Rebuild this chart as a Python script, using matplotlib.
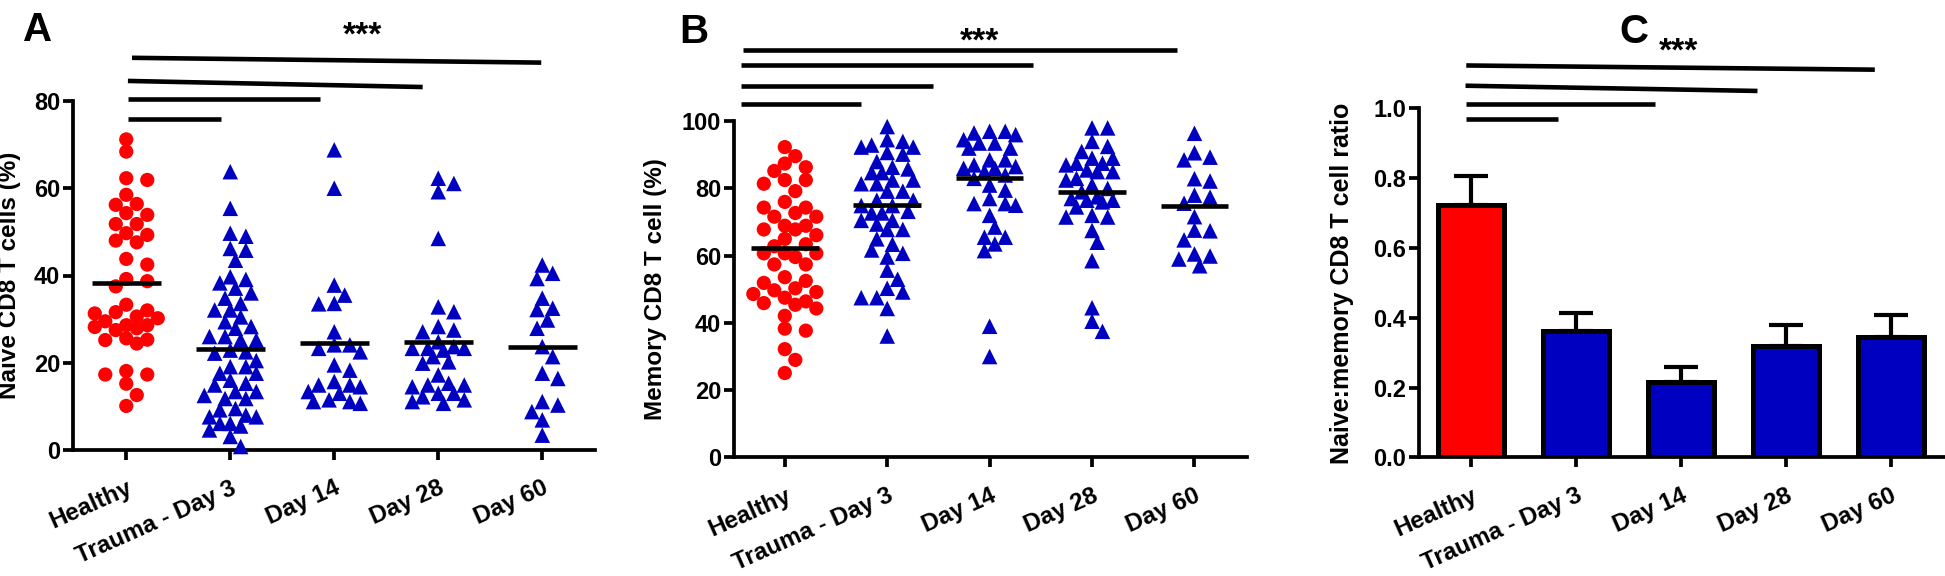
import matplotlib
matplotlib.use('Agg')
import matplotlib.pyplot as plt
import numpy as np
from matplotlib.ticker import FormatStrFormatter

plt.rcParams['font.family'] = ['Liberation Sans', 'DejaVu Sans']
plt.rcParams['font.weight'] = 'bold'

# ---------------- data ----------------
groups = ['Healthy', 'Trauma - Day 3', 'Day 14', 'Day 28', 'Day 60']

naive_healthy = [71.2, 68.4, 62.3, 61.9, 58.5, 56.4, 56.2, 54.3, 53.9, 51.8, 51.8, 49.7, 49.3, 48.0,
                 47.6, 43.8, 42.5, 39.2, 38.7, 37.5, 33.3, 32.0, 31.6, 31.3, 30.6, 30.2, 29.5, 28.6,
                 28.6, 28.2, 27.9, 27.5, 25.6, 25.3, 25.2, 24.4, 18.1, 17.3, 17.3, 15.2, 12.6, 10.1]
naive_day3 = [63.8, 55.4, 49.7, 49.0, 46.2, 45.8, 43.5, 39.7, 39.1, 38.3, 37.1, 36.0, 34.8, 33.6,
              32.1, 32.1, 30.5, 29.4, 28.3, 27.9, 26.0, 26.0, 25.2, 25.2, 22.9, 22.5, 22.2, 20.5,
              19.1, 19.1, 17.6, 17.6, 16.0, 15.3, 14.9, 13.4, 13.4, 12.5, 11.8, 11.8, 9.5, 9.2,
              8.0, 7.6, 7.6, 6.1, 6.1, 5.5, 4.6, 3.1, 0.8]
naive_day14 = [68.8, 60.0, 37.8, 35.5, 33.6, 33.5, 27.1, 24.1, 24.1, 23.3, 22.5, 19.5, 18.3, 15.7,
               14.9, 14.9, 14.5, 13.4, 13.0, 11.5, 11.1, 11.1, 10.7]
naive_day28 = [62.3, 61.1, 59.2, 48.5, 32.8, 31.7, 28.3, 27.5, 27.1, 24.8, 23.7, 23.3, 23.3, 23.3,
               22.9, 21.4, 20.2, 19.9, 17.2, 15.3, 14.9, 14.9, 14.5, 13.0, 13.0, 12.2, 11.5, 11.1, 10.7]
naive_day60 = [42.4, 40.5, 39.3, 34.8, 32.5, 32.2, 29.8, 27.9, 23.7, 21.4, 17.6, 16.4, 11.1, 10.3,
               8.8, 6.9, 3.4]
naive_center = [38.3, 23.2, 24.6, 24.8, 23.6]

memory_healthy = [92.3, 89.6, 87.4, 86.3, 85.2, 82.5, 82.5, 81.4, 79.2, 76.0, 74.3, 74.3, 72.7, 71.6,
                  71.6, 68.9, 68.9, 67.8, 67.8, 66.1, 65.0, 63.4, 62.8, 60.7, 60.7, 60.7, 59.6, 57.4,
                  57.4, 53.6, 52.5, 51.9, 50.3, 49.7, 49.2, 48.6, 47.5, 46.4, 45.9, 45.4, 44.3, 42.1,
                  38.3, 37.7, 32.2, 29.0, 25.1]
memory_day3 = [98.4, 94.5, 94.0, 92.9, 92.3, 92.3, 90.7, 90.2, 88.0, 86.3, 85.8, 84.7, 84.7, 82.5,
               82.5, 81.4, 81.4, 79.2, 79.2, 76.5, 76.5, 74.9, 74.9, 73.2, 72.7, 72.7, 70.5, 70.5,
               69.4, 67.8, 67.8, 65.0, 63.4, 61.7, 60.7, 59.6, 55.7, 53.0, 50.3, 49.2, 47.5, 47.5,
               44.3, 36.1]
memory_day14 = [97.0, 97.0, 96.5, 96.0, 94.5, 93.5, 93.5, 92.0, 92.0, 88.5, 88.5, 87.0, 86.5, 86.0,
                86.0, 85.0, 84.0, 83.0, 81.0, 79.5, 77.0, 75.5, 75.5, 75.0, 72.0, 68.5, 65.5, 65.5,
                63.5, 61.5, 39.0, 30.0]
memory_day28 = [98.0, 98.0, 94.0, 92.5, 91.0, 89.0, 89.0, 87.5, 87.5, 87.0, 85.5, 85.0, 85.0, 83.0,
                82.5, 81.0, 80.0, 79.0, 77.5, 77.0, 76.5, 76.5, 76.0, 74.5, 72.0, 71.5, 71.5, 67.5,
                64.0, 58.5, 44.5, 40.5, 37.5]
memory_day60 = [96.4, 90.6, 89.3, 88.5, 82.9, 82.2, 78.0, 77.4, 75.6, 71.6, 67.6, 67.4, 64.7, 60.5,
                59.9, 59.0, 57.0]
memory_center = [62.3, 75.2, 83.2, 79.0, 74.8]

ratio_mean = [0.724, 0.363, 0.216, 0.318, 0.344]
ratio_sem = [0.083, 0.050, 0.044, 0.061, 0.063]

sig_label = '***'

RED = '#FF0000'
BLUE = '#0000C0'

# ---------------- figure ----------------
W, H = 1945, 576
fig = plt.figure(figsize=(W / 100, H / 100), dpi=100)


def px_axes(left, right, bottom, top):
    return fig.add_axes([left / W, 1 - bottom / H, (right - left) / W, (bottom - top) / H])


axA = px_axes(72.7, 595, 450, 101)
axB = px_axes(733.6, 1246.7, 457.4, 121.2)
axC = px_axes(1418.8, 1945, 457.4, 108.4)

LW = 2.7
for ax in (axA, axB, axC):
    for s in ('top', 'right'):
        ax.spines[s].set_visible(False)
    for s in ('left', 'bottom'):
        ax.spines[s].set_linewidth(LW)
    ax.tick_params(axis='both', width=LW, length=7, direction='out')
    ax.tick_params(axis='y', pad=2)
    ax.set_xticks(range(len(groups)))
    ax.set_xticklabels(groups, rotation=24, ha='right', va='top',
                       rotation_mode='anchor', fontsize=17.5, fontweight='bold')
    ax.tick_params(axis='x', pad=12)

axA.set_xlim(-0.515, 4.507)
axA.set_ylim(0, 80)
axA.set_yticks([0, 20, 40, 60, 80])
axB.set_xlim(-0.50, 4.51)
axB.set_ylim(0, 100)
axB.set_yticks([0, 20, 40, 60, 80, 100])
axC.set_xlim(-0.503, 4.52)
axC.set_ylim(0, 1.0)
axC.set_yticks([0, 0.2, 0.4, 0.6, 0.8, 1.0])
axC.yaxis.set_major_formatter(FormatStrFormatter('%.1f'))
for ax in (axA, axB, axC):
    for lab in ax.get_yticklabels():
        lab.set_fontweight('bold')
        lab.set_fontsize(17)


def swarm_x(ax, xc, vals, diam, step, kmax):
    """Compact dot-plot spreading on a grid of offsets (pixels)."""
    vals = np.asarray(vals, float)
    pts = ax.transData.transform(np.column_stack([np.full(len(vals), xc), vals]))
    ys = pts[:, 1]
    x0 = pts[0, 0]
    grid = sorted([k * step for k in range(-kmax, kmax + 1)], key=lambda c: (abs(c), -c))
    order = np.argsort(-vals, kind='stable')
    placed = []
    offs = np.zeros(len(vals))
    for i in order:
        y = ys[i]
        best, best_d = grid[0], -1.0
        chosen = None
        for c in grid:
            dmin = min([np.hypot(c - a, y - b) for a, b in placed] + [1e9])
            if dmin >= diam:
                chosen = c
                break
            if dmin > best_d + 0.5:
                best, best_d = c, dmin
        if chosen is None:
            chosen = best
        placed.append((chosen, y))
        offs[i] = chosen
    data = ax.transData.inverted().transform(np.column_stack([x0 + offs, ys]))
    return data[:, 0]


def scatter_panel(ax, series, centers):
    for i, vals in enumerate(series):
        if i == 0:
            xs = swarm_x(ax, i, vals, 12.0, 10.5, 3)
            ax.scatter(xs, vals, s=105, marker='o', color=RED, edgecolors='none',
                       zorder=3, clip_on=False)
        else:
            xs = swarm_x(ax, i, vals, 12.0, 5.2, 5)
            ax.scatter(xs, vals, s=125, marker='^', color=BLUE, edgecolors='none',
                       zorder=3, clip_on=False)
        ax.plot([i - 0.33, i + 0.33], [centers[i], centers[i]], color='black',
                lw=3.3, zorder=4, solid_capstyle='butt')


scatter_panel(axA, [naive_healthy, naive_day3, naive_day14, naive_day28, naive_day60], naive_center)
scatter_panel(axB, [memory_healthy, memory_day3, memory_day14, memory_day28, memory_day60], memory_center)

# bars
xC = np.arange(len(groups))
axC.errorbar(xC, ratio_mean, yerr=[np.zeros(len(xC)), ratio_sem], fmt='none', ecolor='black',
             elinewidth=3.0, capsize=12, capthick=3.0, zorder=1)
axC.bar(xC, ratio_mean, width=0.63, color=[RED] + [BLUE] * 4, edgecolor='black',
        linewidth=3.6, zorder=2)


# significance lines (x start, x end, y left, y right)
def sig(ax, lines, star_x, star_y):
    for (x0, x1, y0, y1) in lines:
        ax.plot([x0, x1], [y0, y1], color='black', lw=3.3, clip_on=False,
                solid_capstyle='butt')
    ax.text(star_x, star_y, sig_label, ha='center', va='center', fontsize=24,
            fontweight='bold', clip_on=False)


sig(axA, [(0.016, 0.91, 75.8, 75.8), (0.016, 1.86, 80.4, 80.4),
          (0.016, 2.85, 84.6, 83.2), (0.055, 3.99, 89.9, 88.8)], 2.27, 95.0)
sig(axB, [(-0.425, 0.745, 105.1, 105.1), (-0.425, 1.45, 110.4, 110.4),
          (-0.425, 2.42, 116.6, 116.6), (-0.41, 3.83, 121.3, 121.3)], 1.90, 123.4)
sig(axC, [(-0.057, 0.83, 0.969, 0.969), (-0.057, 1.75, 1.013, 1.013),
          (-0.057, 2.73, 1.065, 1.050), (-0.05, 3.85, 1.123, 1.111)], 1.98, 1.162)

# y labels
axA.set_ylabel('Naive CD8 T cells (%)', fontsize=17.5, fontweight='bold')
axA.yaxis.set_label_coords(-0.099, 0.5)
axB.set_ylabel('Memory CD8 T cell (%)', fontsize=17.5, fontweight='bold')
axB.yaxis.set_label_coords(-0.13, 0.5)
axC.set_ylabel('Naive:memory CD8 T cell ratio', fontsize=18, fontweight='bold')
axC.yaxis.set_label_coords(-0.123, 0.5)

# panel letters
fig.text(23 / W, 1 - 41 / H, 'A', fontsize=29, fontweight='bold', ha='left', va='baseline')
fig.text(679 / W, 1 - 43 / H, 'B', fontsize=29, fontweight='bold', ha='left', va='baseline')
fig.text(1619 / W, 1 - 43 / H, 'C', fontsize=29, fontweight='bold', ha='left', va='baseline')

fig.savefig('out.png', dpi=100)
